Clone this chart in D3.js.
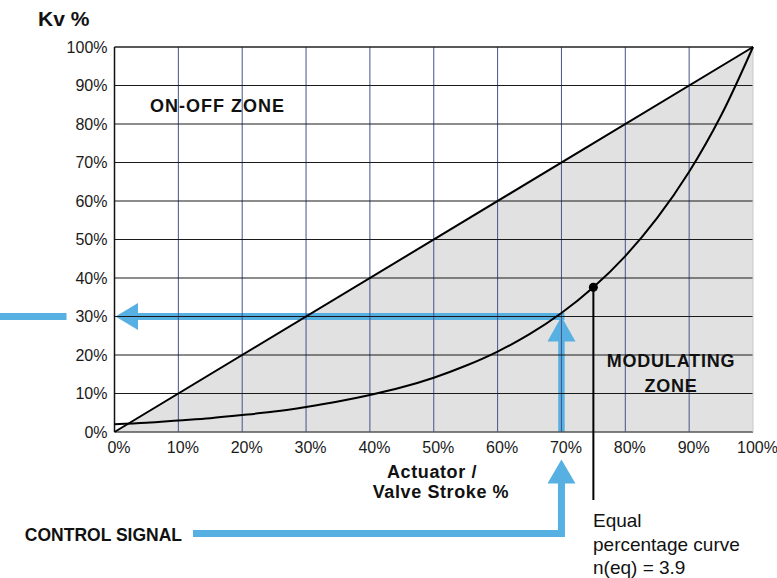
<!DOCTYPE html>
<html><head><meta charset="utf-8">
<script src="https://cdn.jsdelivr.net/npm/d3@7"></script>
<style>body{margin:0;background:#fff}</style>
</head><body>
<svg id="c" width="777" height="578"></svg>
<script>
// ---- data ----
const tickValues = [0,10,20,30,40,50,60,70,80,90,100];
const tickLabels = ["0%","10%","20%","30%","40%","50%","60%","70%","80%","90%","100%"];
const strokePct = [0,5,10,15,20,25,30,35,40,45,50,55,60,65,70,75,80,85,90,95,100];
const kvPct     = [2.0,2.4,3.0,3.6,4.4,5.3,6.5,7.9,9.6,11.6,14.1,17.2,20.9,25.4,30.9,37.6,45.7,55.6,67.6,82.2,100];
const linearStroke = [0,100];
const linearKv     = [0,100];
const signalStroke = 70;
const signalKv = 30;
const markStroke = 75;
const markKv = 37.6;
const yTitle = "Kv %";
const xTitle = ["Actuator /","Valve Stroke %"];
const zoneOnOff = "ON-OFF ZONE";
const zoneMod = ["MODULATING","ZONE"];
const controlLabel = "CONTROL SIGNAL";
const noteLines = ["Equal","percentage curve","n(eq) = 3.9"];

// ---- setup ----
const svg = d3.select("#c");
const x = d3.scaleLinear().domain([0,100]).range([114.5,753]);
const y = d3.scaleLinear().domain([0,100]).range([432,47]);
const BLUE = "#56b0e2";
const FONT = "'Liberation Sans', Arial, Helvetica, sans-serif";

// background: white upper triangle, gray lower triangle
svg.append("rect").attr("x",x(0)).attr("y",y(100)).attr("width",x(100)-x(0)).attr("height",y(0)-y(100)).attr("fill","#fff");
svg.append("path")
  .attr("d", d3.line()([[x(0),y(0)],[x(100),y(100)],[x(100),y(0)]]) + "Z")
  .attr("fill","#e1e1e1");

// ---- blue arrows (under grid) ----
const by = y(signalKv), bx = x(signalStroke);
svg.append("line").attr("x1",bx+3).attr("x2",x(0)+20).attr("y1",by).attr("y2",by)
  .attr("stroke",BLUE).attr("stroke-width",7);
svg.append("path").attr("d",`M${x(0)+1},${by} L${x(0)+23.5},${by-13.5} L${x(0)+23.5},${by+13.5} Z`).attr("fill",BLUE);
svg.append("line").attr("x1",0).attr("x2",x(0)-48).attr("y1",by).attr("y2",by)
  .attr("stroke",BLUE).attr("stroke-width",7);
svg.append("line").attr("x1",bx).attr("x2",bx).attr("y1",y(0)).attr("y2",by+22)
  .attr("stroke",BLUE).attr("stroke-width",6.5);
svg.append("path").attr("d",`M${bx},${by} L${bx-14},${by+25} L${bx+14},${by+25} Z`).attr("fill",BLUE);
svg.append("path").attr("d",`M193,533.5 H${bx} V480`).attr("fill","none")
  .attr("stroke",BLUE).attr("stroke-width",7).attr("stroke-linejoin","miter");
svg.append("path").attr("d",`M${bx},459.5 L${bx-14},483.5 L${bx+14},483.5 Z`).attr("fill",BLUE);

// ---- grid ----
const inner = tickValues.filter(d=>d>0 && d<100);
svg.append("g").selectAll("line").data(inner).join("line")
  .attr("x1",d=>x(d)).attr("x2",d=>x(d)).attr("y1",y(0)).attr("y2",y(100))
  .attr("stroke","#44538a").attr("stroke-width",1);
svg.append("g").selectAll("line").data(inner).join("line")
  .attr("x1",x(0)).attr("x2",x(100)).attr("y1",d=>y(d)).attr("y2",d=>y(d))
  .attr("stroke","#1a1a1a").attr("stroke-width",1.1);
svg.append("line").attr("x1",x(0)).attr("x2",x(100)).attr("y1",y(100)).attr("y2",y(100)).attr("stroke","#222").attr("stroke-width",1.3);
svg.append("line").attr("x1",x(0)).attr("x2",x(0)).attr("y1",y(100)).attr("y2",y(0)).attr("stroke","#111").attr("stroke-width",1.5);
svg.append("line").attr("x1",x(0)).attr("x2",x(100)).attr("y1",y(0)).attr("y2",y(0)).attr("stroke","#555").attr("stroke-width",1.5);
svg.append("line").attr("x1",x(100)).attr("x2",x(100)).attr("y1",y(100)).attr("y2",y(0)).attr("stroke","#c8c8c8").attr("stroke-width",1);

// ---- curves ----
svg.append("path")
  .attr("d", d3.line().x(d=>x(d[0])).y(d=>y(d[1]))(linearStroke.map((s,i)=>[s,linearKv[i]])))
  .attr("fill","none").attr("stroke","#000").attr("stroke-width",2);
svg.append("path")
  .attr("d", d3.line().curve(d3.curveCatmullRom.alpha(0.5)).x(d=>x(d[0])).y(d=>y(d[1]))(strokePct.map((s,i)=>[s,kvPct[i]])))
  .attr("fill","none").attr("stroke","#000").attr("stroke-width",2);

svg.append("line").attr("x1",x(markStroke)).attr("x2",x(markStroke)).attr("y1",y(markKv)).attr("y2",500)
  .attr("stroke","#000").attr("stroke-width",2);
svg.append("circle").attr("cx",x(markStroke)).attr("cy",y(markKv)).attr("r",4.5).attr("fill","#000");

// ---- axes (labels only) ----
const fmt = d => tickLabels[tickValues.indexOf(d)];
const gy = svg.append("g").attr("transform",`translate(${x(0)-6},0)`)
  .call(d3.axisLeft(y).tickValues(tickValues).tickFormat(fmt).tickSize(0).tickPadding(1));
const gx = svg.append("g").attr("transform",`translate(4,${y(0)+6})`)
  .call(d3.axisBottom(x).tickValues(tickValues).tickFormat(fmt).tickSize(0).tickPadding(4));
[gx,gy].forEach(g=>{
  g.select(".domain").remove();
  g.selectAll("text").attr("font-family",FONT).attr("font-size",16).attr("fill","#1a1a1a");
});

// ---- text ----
function txt(t, px, py, opts={}) {
  return svg.append("text").attr("x",px).attr("y",py).text(t)
    .attr("font-family",FONT).attr("font-size",opts.size||18)
    .attr("font-weight",opts.bold?"bold":"normal")
    .attr("text-anchor",opts.anchor||"start")
    .attr("fill","#111");
}
txt(yTitle, 38, 26, {bold:true, size:21});
txt(zoneOnOff, 150, 112, {bold:true, size:18}).attr("letter-spacing","1");
txt(zoneMod[0], 671, 367, {bold:true, size:18, anchor:"middle"}).attr("letter-spacing","0.8");
txt(zoneMod[1], 671, 391.5, {bold:true, size:18, anchor:"middle"}).attr("letter-spacing","0.8");
txt(xTitle[0], 432, 477.5, {bold:true, size:18, anchor:"middle"}).attr("letter-spacing","0.6");
txt(xTitle[1], 441, 498, {bold:true, size:18, anchor:"middle"}).attr("letter-spacing","0.6");
txt(controlLabel, 182, 540.5, {bold:true, size:17.5, anchor:"end"});
noteLines.forEach((t,i)=>txt(t, 593, 527 + i*23.5, {size:19}));
</script>
</body></html>
